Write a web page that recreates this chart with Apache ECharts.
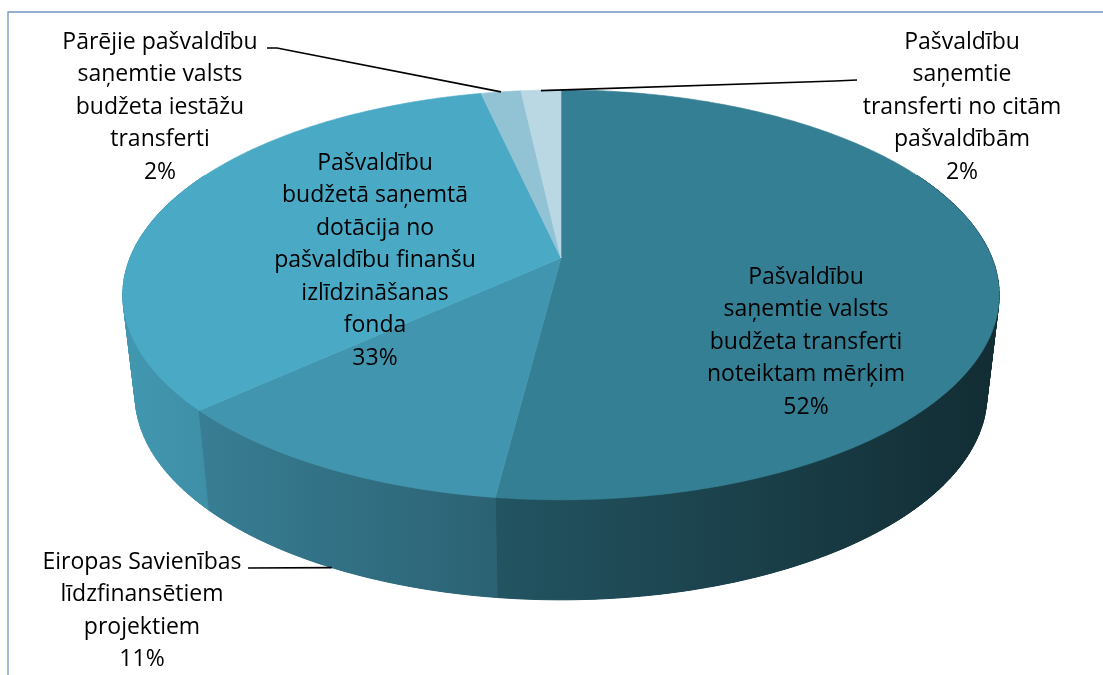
<!DOCTYPE html>
<html>
<head>
<meta charset="utf-8">
<script src="https://cdn.jsdelivr.net/npm/echarts@6/dist/echarts.min.js"></script>
<style>
html,body{margin:0;padding:0;background:#fff;}
#chart{width:1103px;height:675px;}
</style>
</head>
<body>
<div id="chart"></div>
<script>
// ---- data ----
const categories = [
  'Pašvaldību\nsaņemtie valsts\nbudžeta transferti\nnoteiktam mērķim',
  'Eiropas Savienības\nlīdzfinansētiem\nprojektiem',
  'Pašvaldību\nbudžetā saņemtā\ndotācija no\npašvaldību finanšu\nizlīdzināšanas\nfonda',
  'Pārējie pašvaldību\nsaņemtie valsts\nbudžeta iestāžu\ntransferti',
  'Pašvaldību\nsaņemtie\ntransferti no citām\npašvaldībām'
];
const values = [52.0, 11.2, 33.3, 1.75, 1.75];
const topColors = ['#347f93', '#4295ae', '#4aaac6', '#92c3d5', '#b9d8e3'];

// ---- layout / projection ----
const CX = 561, CY = 258, RX = 431, RY = 198.3, K = 0.18, SX = 0.972, SY = 1.0, D = 100;
const FONT = '23px "Open Sans", "Noto Sans", sans-serif';
const LH = 32.5;
const total = values.reduce((a, b) => a + b, 0);
const starts = [];
(function () { let c = 0; values.forEach(v => { starts.push(c / total * Math.PI * 2); c += v; }); })();
function ang(i) { return [starts[i], starts[i] + values[i] / total * Math.PI * 2]; }
function topPt(th) {
  const X = Math.sin(th), Y = -Math.cos(th), w = 1 - K * Y;
  return [CX + RX * X / w, CY + RY * Y / w];
}
function botPt(th) {
  const p = topPt(th);
  return [CX + SX * (p[0] - CX), CY + SY * (p[1] - CY) + D];
}
function hexRgb(h) { return [parseInt(h.substr(1, 2), 16), parseInt(h.substr(3, 2), 16), parseInt(h.substr(5, 2), 16)]; }
function shade(h, f) { const c = hexRgb(h); return 'rgb(' + c.map(v => Math.round(v * f)).join(',') + ')'; }

// label layout (positions only)
const labelLayout = [
  { x: 806, y: 261 },
  { x: 142, y: 546, lead: (m) => [[248, 568], botPt(m)] },
  { x: 375, y: 147 },
  { x: 160, y: 26, lead: (m) => [[267, 48], [277, 48], topPt(m)] },
  { x: 962, y: 26, lead: (m) => { const p = topPt(m); return [[p[0], p[1] + 0.5], [835, 81], [857, 80]]; } }
];

function wallGradient(i) {
  const x0 = CX - RX * 1.02, x1 = CX + RX * 1.02;
  const fL = 0.62 + 0.27 * 1.02, fR = Math.max(0.3, 0.62 - 0.27 * 1.02);
  return {
    type: 'linear', global: true, x: x0, y: 0, x2: x1, y2: 0,
    colorStops: [
      { offset: 0, color: shade(topColors[i], fL) },
      { offset: 1, color: shade(topColors[i], fR) }
    ]
  };
}

function renderWalls(params) {
  const i = params.dataIndex;
  const [a1, a2] = ang(i);
  const lo = Math.max(a1, Math.acos(0.45)), hi = Math.min(a2, 2 * Math.PI - Math.acos(0.45));
  const children = [];
  if (hi > lo) {
    const n = Math.max(2, Math.ceil((hi - lo) / (Math.PI / 180)));
    const tops = [], bots = [];
    for (let s = 0; s <= n; s++) {
      const t = lo + (hi - lo) * s / n;
      tops.push(topPt(t)); bots.push(botPt(t));
    }
    // underlay covering the whole wall (hides any seams between strips)
    children.push({
      type: 'polygon', z2: -1,
      shape: { points: tops.concat(bots.slice().reverse()) },
      style: { fill: wallGradient(i) }
    });
    for (let s = 0; s < n; s++) {
      const tm = lo + (hi - lo) * (s + 0.5) / n;
      children.push({
        type: 'polygon',
        z2: Math.round((1 - Math.cos(tm)) * 100),
        shape: { points: [tops[s], tops[s + 1], bots[s + 1], bots[s]] },
        style: { fill: wallGradient(i), stroke: wallGradient(i), lineWidth: 1 }
      });
    }
  }
  return { type: 'group', children };
}

function renderTop(params) {
  const i = params.dataIndex;
  const [a1, a2] = ang(i);
  const n = Math.max(2, Math.ceil((a2 - a1) / (Math.PI / 360)));
  const pts = [[CX, CY]];
  for (let s = 0; s <= n; s++) pts.push(topPt(a1 + (a2 - a1) * s / n));
  return {
    type: 'polygon',
    shape: { points: pts },
    style: { fill: topColors[i], stroke: topColors[i], lineWidth: 0.6 }
  };
}

function renderLabel(params) {
  const i = params.dataIndex;
  const [a1, a2] = ang(i);
  const m = (a1 + a2) / 2;
  const L = labelLayout[i];
  const pct = Math.round(values[i] / total * 100) + '%';
  const children = [{
    type: 'text',
    x: L.x, y: L.y,
    style: {
      text: categories[i] + '\n' + pct,
      textAlign: 'center', textVerticalAlign: 'top',
      font: FONT, lineHeight: LH, fill: '#000'
    }
  }];
  if (L.lead) {
    children.push({
      type: 'polyline',
      shape: { points: L.lead(m) },
      style: { stroke: '#000', lineWidth: 1.6, fill: null }
    });
  }
  return { type: 'group', children };
}

const seriesData = values.map((v, i) => ({ value: [i, v], name: categories[i] }));

const chart = echarts.init(document.getElementById('chart'), null, { renderer: 'canvas' });
chart.setOption({
  backgroundColor: '#fff',
  animation: false,
  graphic: [{
    type: 'rect', z: 10,
    shape: { x: 8, y: 12, width: 1110, height: 700 },
    style: { fill: 'none', stroke: '#7394c4', lineWidth: 1.3 }
  }],
  series: [
    { type: 'custom', coordinateSystem: 'none', z: 1, renderItem: renderWalls, data: seriesData, silent: true },
    { type: 'custom', coordinateSystem: 'none', z: 2, renderItem: renderTop, data: seriesData, silent: true },
    { type: 'custom', coordinateSystem: 'none', z: 3, renderItem: renderLabel, data: seriesData, silent: true }
  ]
});
</script>
</body>
</html>
